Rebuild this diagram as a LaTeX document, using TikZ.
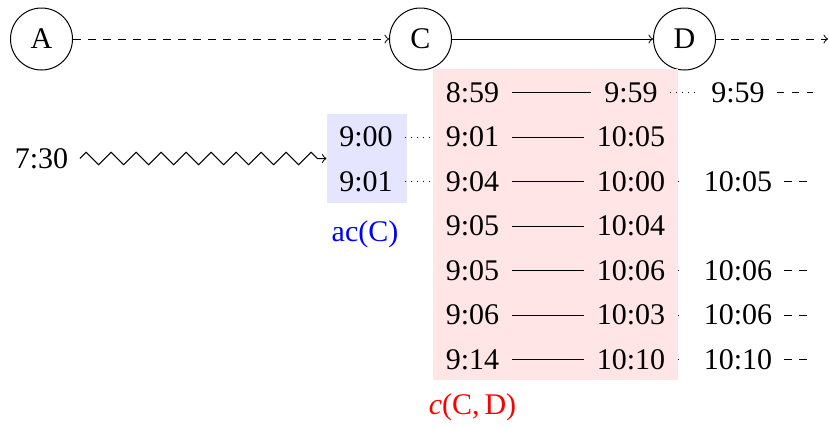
\documentclass[tikz,border=0pt]{standalone}
\usepackage{fontspec}
\setmainfont{Liberation Serif}
\usepackage{xcolor}
\usetikzlibrary{decorations.pathmorphing}

\begin{document}
\begin{tikzpicture}[
  x=0.4pt, y=-0.4pt,
  every node/.style={font=\fontsize{12}{14}\selectfont},
  stop/.style={draw, circle, minimum size=24.8pt, inner sep=0pt},
  tm/.style={inner sep=1.5pt},
  arrbox/.style={fill=blue!10, minimum width=32pt, minimum height=35.6pt},
  connbox/.style={fill=red!10, minimum width=98pt, minimum height=124.4pt},
  leg/.style={shorten <=3.6pt, shorten >=3.6pt},
  wait/.style={dotted, shorten <=3.2pt, shorten >=4.4pt},
  waitshort/.style={dotted, shorten <=3.6pt, shorten >=7.2pt},
  more/.style={dashed, shorten <=3.2pt}
]
\useasboundingbox (0,0) rectangle (829,428);

% stops
\node[stop] (A) at (41.5,39) {A};
\node[stop] (C) at (420.5,39) {C};
\node[stop] (D) at (684.5,39) {D};
\coordinate (out) at (828,39);
\draw[->, dashed] (A) -- (C);
\draw[->] (C) -- (D);
\draw[->, dashed] (D) -- (out);

% boxes
\node[arrbox] (acbox) at (367,158.5) {};
\node[connbox] (cbox) at (555.5,224.5) {};
\node[text=blue] (aclab) at (365,234) {ac(C)};
\node[text=red] (clab) at (472.5,407.5) {\textit{c}(C,\,D)};

% arrival
\node[tm] (start) at (41.5,158.5) {7:30};
\node[tm] (ac1) at (366,137) {9:00};
\node[tm] (ac2) at (366,181.5) {9:01};
\draw[->, decorate, decoration={zigzag, post length=1.5pt}]
  ([xshift=3pt]start.east) -- (acbox.west);

% connections C -> D
\node[tm] (dep1) at (472.5,92.5) {8:59};
\node[tm] (dep2) at (472.5,137) {9:01};
\node[tm] (dep3) at (472.5,181.5) {9:04};
\node[tm] (dep4) at (472.5,226) {9:05};
\node[tm] (dep5) at (472.5,270.5) {9:05};
\node[tm] (dep6) at (472.5,315) {9:06};
\node[tm] (dep7) at (472.5,359.5) {9:14};
\node[tm] (arr1) at (631,92.5) {9:59};
\node[tm] (arr2) at (631,137) {10:05};
\node[tm] (arr3) at (631,181.5) {10:00};
\node[tm] (arr4) at (631,226) {10:04};
\node[tm] (arr5) at (631,270.5) {10:06};
\node[tm] (arr6) at (631,315) {10:03};
\node[tm] (arr7) at (631,359.5) {10:10};
\foreach \i in {1,...,7}
  \draw[leg] (dep\i) -- (arr\i);

\draw[wait] (ac1) -- (dep2);
\draw[wait] (ac2) -- (dep3);

% at D
\node[tm] (best1) at (738,92.5) {9:59};
\node[tm] (best3) at (738,181.5) {10:05};
\node[tm] (best5) at (738,270.5) {10:06};
\node[tm] (best6) at (738,315) {10:06};
\node[tm] (best7) at (738,359.5) {10:10};
\coordinate (end1) at (813,92.5);
\coordinate (end3) at (808,181.5);
\coordinate (end5) at (808,270.5);
\coordinate (end6) at (808,315);
\coordinate (end7) at (808,359.5);
\draw[wait] (arr1) -- (best1);
\foreach \i in {3,5,6,7}
  \draw[waitshort] (arr\i) -- (best\i);
\foreach \i in {1,3,5,6,7}
  \draw[more] (best\i) -- (end\i);
\end{tikzpicture}
\end{document}
